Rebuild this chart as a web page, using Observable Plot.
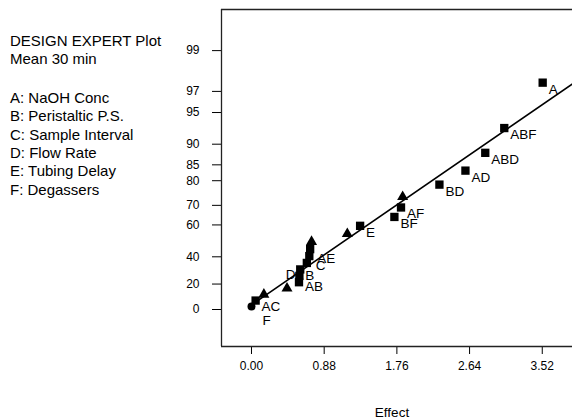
<!DOCTYPE html>
<html>
<head>
<meta charset="utf-8">
<script src="https://cdn.jsdelivr.net/npm/d3@7"></script>
<script src="https://cdn.jsdelivr.net/npm/@observablehq/plot@0.6"></script>
<style>
  html, body { margin: 0; padding: 0; background: #fff; }
  #wrap { position: relative; width: 572px; height: 419px; overflow: hidden; font-family: "Liberation Sans", Arial, Helvetica, sans-serif; }
  #notes { position: absolute; left: 10px; top: 32px; font-size: 15px; line-height: 18.4px; color: #000; white-space: nowrap; }
  #notes .gap { height: 20px; }
</style>
</head>
<body>
<div id="wrap">
  <div id="chart"></div>
  <div id="notes"></div>
</div>
<script>
// ---- data ----
const titleLines = ["DESIGN EXPERT Plot", "Mean 30 min"];
const factorLines = ["A: NaOH Conc", "B: Peristaltic P.S.", "C: Sample Interval", "D: Flow Rate", "E: Tubing Delay", "F: Degassers"];

const effectLabels = ["F", "AC", "", "", "AB", "D", "B", "C", "AE", "", "", "", "E", "BF", "AF", "", "BD", "AD", "ABD", "ABF", "A"];
const effectValues = [0.00, 0.05, 0.15, 0.43, 0.575, 0.58, 0.59, 0.67, 0.70, 0.71, 0.727, 1.16, 1.315, 1.73, 1.81, 1.83, 2.275, 2.59, 2.83, 3.06, 3.525];
const halfNormalPct = [2.4, 7.1, 11.9, 16.7, 21.4, 26.2, 31.0, 35.7, 40.5, 45.2, 50.0, 54.8, 59.5, 64.3, 69.0, 73.8, 78.6, 83.3, 88.1, 92.9, 97.6];
const effectShapes = ["circle", "square", "triangle", "triangle", "square", "square", "square", "square", "square", "square", "triangle", "triangle", "square", "square", "square", "triangle", "square", "square", "square", "square", "square"];

const fitLineEffect = [0.05, 3.9];
const fitLinePct = [5.9, 97.57];

const xTicks = [0.00, 0.88, 1.76, 2.64, 3.52];
const yTickPct = [0, 20, 40, 60, 70, 80, 85, 90, 95, 97, 99];
const yTickLabels = ["0", "20", "40", "60", "70", "80", "85", "90", "95", "97", "99"];
const xTitle = "Effect";

// ---- helpers ----
function probit(p) {
  const a = [-3.969683028665376e+01, 2.209460984245205e+02, -2.759285104469687e+02, 1.383577518672690e+02, -3.066479806614716e+01, 2.506628277459239e+00];
  const b = [-5.447609879822406e+01, 1.615858368580409e+02, -1.556989798598866e+02, 6.680131188771972e+01, -1.328068155288572e+01];
  const c = [-7.784894002430293e-03, -3.223964580411365e-01, -2.400758277161838e+00, -2.549732539343734e+00, 4.374664141464968e+00, 2.938163982698783e+00];
  const d = [7.784695709041462e-03, 3.224671290700398e-01, 2.445134137142996e+00, 3.754408661907416e+00];
  const pl = 0.02425, ph = 1 - pl;
  if (p < pl) { const q = Math.sqrt(-2 * Math.log(p)); return (((((c[0]*q+c[1])*q+c[2])*q+c[3])*q+c[4])*q+c[5]) / ((((d[0]*q+d[1])*q+d[2])*q+d[3])*q+1); }
  if (p <= ph) { const q = p - 0.5, r = q*q; return (((((a[0]*r+a[1])*r+a[2])*r+a[3])*r+a[4])*r+a[5])*q / (((((b[0]*r+b[1])*r+b[2])*r+b[3])*r+b[4])*r+1); }
  const q = Math.sqrt(-2 * Math.log(1 - p)); return -(((((c[0]*q+c[1])*q+c[2])*q+c[3])*q+c[4])*q+c[5]) / ((((d[0]*q+d[1])*q+d[2])*q+d[3])*q+1);
}
const hn = pct => pct <= 0 ? 0 : probit(0.5 + pct / 200);

const points = effectValues.map((v, i) => ({effect: v, pct: halfNormalPct[i], z: hn(halfNormalPct[i]), label: effectLabels[i], shape: effectShapes[i]}));
const fitLine = fitLineEffect.map((v, i) => ({effect: v, z: hn(fitLinePct[i])}));
const yTickZ = yTickPct.map(hn);

// label placement (style): [dx, dy(baseline), anchor]
const nudge = {
  F: [11, 19, "start"], AC: [6, 10, "start"], AB: [6, 9, "start"], D: [-4, 3, "end"],
  B: [5, 11, "start"], C: [9, 7, "start"], AE: [8, 7, "start"]
};
const def = [6, 11, "start"];

const xDomain = [-0.363, 3.886];
const yDomain = [-0.368, 2.985];
const font = "'Liberation Sans', Arial, Helvetica, sans-serif";

const labelMarks = points.filter(d => d.label).map(d => {
  const [dx, dy, anchor] = nudge[d.label] || def;
  return Plot.text([d], {x: "effect", y: "z", text: "label", dx, dy, textAnchor: anchor, lineAnchor: "bottom", fontSize: 13.5, fill: "#000"});
});

const chart = Plot.plot({
  width: 572,
  height: 419,
  marginLeft: 221,
  marginRight: 0,
  marginTop: 9,
  marginBottom: 73,
  style: {fontFamily: font, fontSize: "12px", background: "#fff", color: "#000", overflow: "hidden"},
  x: {domain: xDomain, ticks: xTicks, tickFormat: d => d.toFixed(2), tickSize: 8, tickPadding: 7, label: null},
  y: {domain: yDomain, ticks: yTickZ, tickFormat: (d, i) => yTickLabels[i], tickSize: 9, tickPadding: 13, label: null},
  marks: [
    Plot.ruleX([xDomain[0]], {stroke: "#222", strokeWidth: 1.3}),
    Plot.ruleY([yDomain[0], yDomain[1]], {stroke: "#222", strokeWidth: 1.3}),
    Plot.line(fitLine, {x: "effect", y: "z", stroke: "#000", strokeWidth: 1.6, clip: true}),
    Plot.dot(points.filter(d => d.shape === "square"), {x: "effect", y: "z", symbol: "square", r: 4.7, fill: "#000", stroke: "none"}),
    Plot.dot(points.filter(d => d.shape === "triangle"), {x: "effect", y: "z", symbol: "triangle", r: 4.1, fill: "#000", stroke: "none"}),
    Plot.dot(points.filter(d => d.shape === "circle"), {x: "effect", y: "z", symbol: "circle", r: 4, fill: "#000", stroke: "none"}),
    ...labelMarks,
    Plot.text([xTitle], {frameAnchor: "bottom", dx: -5, dy: 70, lineAnchor: "bottom", fontSize: 13.5, fill: "#000"})
  ]
});
document.getElementById("chart").appendChild(chart);

const notes = document.getElementById("notes");
titleLines.forEach(t => { const el = document.createElement("div"); el.textContent = t; notes.appendChild(el); });
const gap = document.createElement("div"); gap.className = "gap"; notes.appendChild(gap);
factorLines.forEach(t => { const el = document.createElement("div"); el.textContent = t; notes.appendChild(el); });
</script>
</body>
</html>
